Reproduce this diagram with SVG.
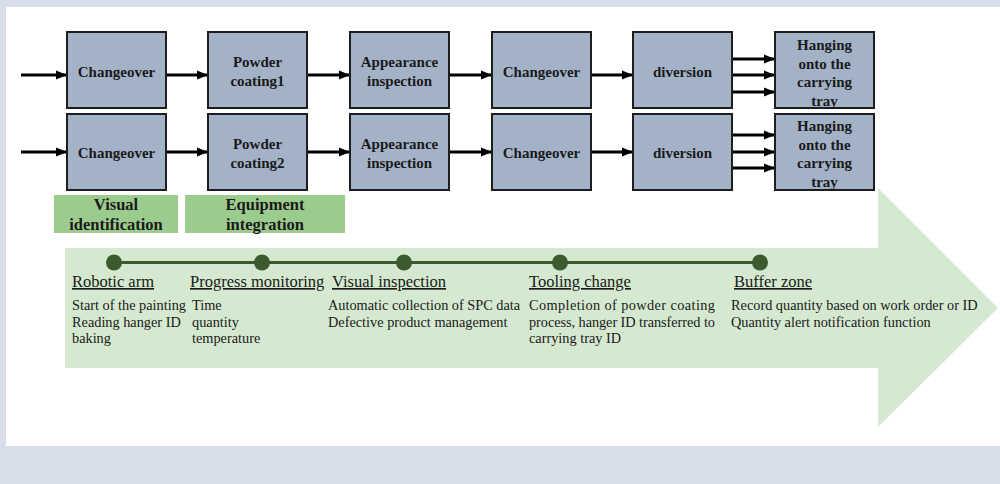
<svg xmlns="http://www.w3.org/2000/svg" width="1000" height="484" viewBox="0 0 1000 484">
<defs>
<marker id="ah" markerUnits="userSpaceOnUse" markerWidth="12" markerHeight="12" refX="11" refY="6" orient="auto">
<path d="M0,1.5 L11,6 L0,10.5 Z" fill="#000"/>
</marker>
<style>
.box{fill:#a4b2c7;stroke:#1e1e1e;stroke-width:2}
.bt{font-family:"Liberation Serif","Times New Roman",serif;font-weight:bold;font-size:15px;fill:#1a1a1a;text-anchor:middle}
.gl{fill:#9ccb8e}
.gt{font-family:"Liberation Serif","Times New Roman",serif;font-weight:bold;font-size:16.5px;fill:#1a1a1a;text-anchor:middle}
.cn{stroke:#000;stroke-width:3;fill:none;marker-end:url(#ah)}
.tt{font-family:"Liberation Serif","Times New Roman",serif;font-size:16.5px;fill:#1a1a1a;text-decoration:underline}
.tx{font-family:"Liberation Serif","Times New Roman",serif;font-size:14.3px;fill:#1a1a1a}
.dot{fill:#3d5a2f}
</style>
</defs>
<rect x="0" y="0" width="1000" height="484" fill="#d7dee9"/>
<rect x="6" y="7" width="994" height="439" fill="#ffffff"/>

<g id="bigarrow">
<path d="M65,248 L878,248 L878,188 L998,308 L878,427 L878,368 L65,368 Z" fill="#d5e8d0"/>
</g>

<g id="connectors">
<line class="cn" x1="21" y1="75" x2="67" y2="75"/>
<line class="cn" x1="166" y1="75" x2="208" y2="75"/>
<line class="cn" x1="307" y1="75" x2="350" y2="75"/>
<line class="cn" x1="449" y1="75" x2="492" y2="75"/>
<line class="cn" x1="591" y1="75" x2="633" y2="75"/>
<line class="cn" x1="732" y1="59" x2="775" y2="59"/>
<line class="cn" x1="732" y1="75" x2="775" y2="75"/>
<line class="cn" x1="732" y1="92" x2="775" y2="92"/>
<line class="cn" x1="21" y1="152" x2="67" y2="152"/>
<line class="cn" x1="166" y1="152" x2="208" y2="152"/>
<line class="cn" x1="307" y1="152" x2="350" y2="152"/>
<line class="cn" x1="449" y1="152" x2="492" y2="152"/>
<line class="cn" x1="591" y1="152" x2="633" y2="152"/>
<line class="cn" x1="732" y1="135" x2="775" y2="135"/>
<line class="cn" x1="732" y1="152" x2="775" y2="152"/>
<line class="cn" x1="732" y1="168" x2="775" y2="168"/>
</g>

<g id="r1-changeover"><rect class="box" x="67" y="32" width="99" height="76"/><text class="bt" x="116.5" y="77">Changeover</text></g>
<g id="r1-powder"><rect class="box" x="208" y="32" width="99" height="76"/><text class="bt" x="257.5" y="67">Powder</text><text class="bt" x="257.5" y="86">coating1</text></g>
<g id="r1-appearance"><rect class="box" x="350" y="32" width="99" height="76"/><text class="bt" x="399.5" y="67">Appearance</text><text class="bt" x="399.5" y="86">inspection</text></g>
<g id="r1-changeover2"><rect class="box" x="492" y="32" width="99" height="76"/><text class="bt" x="541.5" y="77">Changeover</text></g>
<g id="r1-diversion"><rect class="box" x="633" y="32" width="99" height="76"/><text class="bt" x="682.5" y="77">diversion</text></g>
<g id="r1-hanging"><rect class="box" x="775" y="32" width="99" height="76"/><text class="bt" x="824.5" y="50">Hanging</text><text class="bt" x="824.5" y="68.5">onto the</text><text class="bt" x="824.5" y="87">carrying</text><text class="bt" x="824.5" y="105.5">tray</text></g>

<g id="r2-changeover"><rect class="box" x="67" y="114" width="99" height="76"/><text class="bt" x="116.5" y="158">Changeover</text></g>
<g id="r2-powder"><rect class="box" x="208" y="114" width="99" height="76"/><text class="bt" x="257.5" y="149">Powder</text><text class="bt" x="257.5" y="168">coating2</text></g>
<g id="r2-appearance"><rect class="box" x="350" y="114" width="99" height="76"/><text class="bt" x="399.5" y="149">Appearance</text><text class="bt" x="399.5" y="168">inspection</text></g>
<g id="r2-changeover2"><rect class="box" x="492" y="114" width="99" height="76"/><text class="bt" x="541.5" y="158">Changeover</text></g>
<g id="r2-diversion"><rect class="box" x="633" y="114" width="99" height="76"/><text class="bt" x="682.5" y="158">diversion</text></g>
<g id="r2-hanging"><rect class="box" x="775" y="114" width="99" height="76"/><text class="bt" x="824.5" y="131">Hanging</text><text class="bt" x="824.5" y="149.5">onto the</text><text class="bt" x="824.5" y="168">carrying</text><text class="bt" x="824.5" y="186.5">tray</text></g>

<g id="label-visual"><rect class="gl" x="54" y="195" width="124" height="38"/><text class="gt" x="116" y="210">Visual</text><text class="gt" x="116" y="230">identification</text></g>
<g id="label-equipment"><rect class="gl" x="185" y="195" width="160" height="38"/><text class="gt" x="265" y="210">Equipment</text><text class="gt" x="265" y="230">integration</text></g>

<g id="timeline">
<line x1="114" y1="262.5" x2="760" y2="262.5" stroke="#3d5a2f" stroke-width="3"/>
<circle class="dot" cx="114" cy="262.5" r="8"/>
<circle class="dot" cx="262" cy="262.5" r="8"/>
<circle class="dot" cx="404" cy="262.5" r="8"/>
<circle class="dot" cx="560" cy="262.5" r="8"/>
<circle class="dot" cx="760" cy="262.5" r="8"/>
</g>

<g id="stage-robotic">
<text class="tt" x="72" y="287">Robotic arm</text>
<text class="tx" x="72" y="310">Start of the painting</text>
<text class="tx" x="72" y="326.5">Reading hanger ID</text>
<text class="tx" x="72" y="343">baking</text>
</g>
<g id="stage-progress">
<text class="tt" x="190" y="287">Progress monitoring</text>
<text class="tx" x="192" y="310">Time</text>
<text class="tx" x="192" y="326.5">quantity</text>
<text class="tx" x="192" y="343">temperature</text>
</g>
<g id="stage-visual">
<text class="tt" x="332" y="287">Visual inspection</text>
<text class="tx" x="328" y="310">Automatic collection of SPC data</text>
<text class="tx" x="328" y="326.5">Defective product management</text>
</g>
<g id="stage-tooling">
<text class="tt" x="529" y="287">Tooling change</text>
<text class="tx" x="529" y="310" textLength="186" lengthAdjust="spacing">Completion of powder coating</text>
<text class="tx" x="529" y="326.5" textLength="186" lengthAdjust="spacing">process, hanger ID transferred to</text>
<text class="tx" x="529" y="343">carrying tray ID</text>
</g>
<g id="stage-buffer">
<text class="tt" x="734" y="287">Buffer zone</text>
<text class="tx" x="731" y="310">Record quantity based on work order or ID</text>
<text class="tx" x="731" y="326.5">Quantity alert notification function</text>
</g>
</svg>
